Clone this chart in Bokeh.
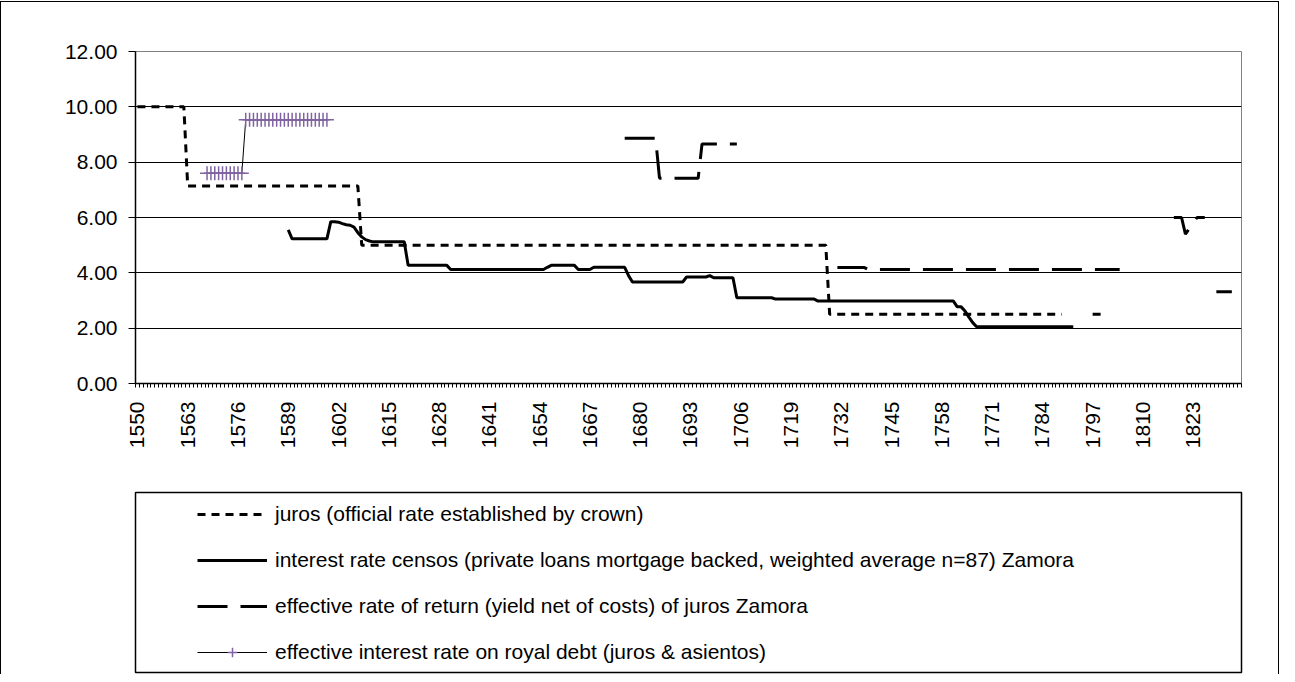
import math
from bokeh.plotting import figure
from bokeh.layouts import column
from bokeh.models import (FixedTicker, NumeralTickFormatter, Legend, LegendItem,
                          Range1d, InlineStyleSheet)
from bokeh.embed import file_html
from bokeh.resources import INLINE

NA = float("nan")

# ---------------- data ----------------
first_year = 1550
last_year = 1835
tick_years = [1550, 1563, 1576, 1589, 1602, 1615, 1628, 1641, 1654, 1667, 1680,
              1693, 1706, 1719, 1732, 1745, 1758, 1771, 1784, 1797, 1810, 1823]
y_ticks = [0, 2, 4, 6, 8, 10, 12]

# plateaus: (from year, to year, value)
juros_runs = [(1550, 1562, 10.00), (1563, 1607, 7.14), (1608, 1728, 5.00),
              (1729, 1789, 2.50), (1797, 1800, 2.50)]

censos_runs = [(1589, 1589, 5.55), (1590, 1599, 5.23), (1600, 1601, 5.85),
               (1602, 1602, 5.83), (1603, 1603, 5.78), (1604, 1604, 5.74),
               (1605, 1605, 5.72), (1606, 1606, 5.65), (1607, 1607, 5.45),
               (1608, 1608, 5.30), (1609, 1609, 5.20), (1610, 1610, 5.15),
               (1611, 1619, 5.12), (1620, 1630, 4.27), (1631, 1655, 4.12),
               (1656, 1656, 4.20), (1657, 1663, 4.27), (1664, 1667, 4.12),
               (1668, 1676, 4.20), (1677, 1677, 3.90), (1678, 1691, 3.67),
               (1692, 1697, 3.85), (1698, 1698, 3.90), (1699, 1704, 3.82),
               (1705, 1714, 3.10), (1715, 1725, 3.05), (1726, 1761, 2.98),
               (1762, 1763, 2.77), (1764, 1764, 2.62), (1765, 1765, 2.40),
               (1766, 1766, 2.20), (1767, 1792, 2.05)]

effective_runs = [(1676, 1684, 8.86), (1685, 1695, 7.42), (1696, 1705, 8.66),
                  (1731, 1738, 4.19), (1739, 1804, 4.12),
                  (1818, 1820, 6.00), (1821, 1821, 5.40), (1822, 1822, 5.60),
                  (1823, 1823, 5.80), (1824, 1826, 6.00), (1829, 1833, 3.32)]

royal_runs = [(1568, 1577, 7.60), (1578, 1599, 9.53)]

labels = ["juros (official rate established by crown)",
          "interest rate censos (private loans mortgage backed, weighted average n=87) Zamora",
          "effective rate of return (yield net of costs) of juros Zamora",
          "effective interest rate on royal debt (juros & asientos)"]

years = list(range(first_year, last_year + 1))


def expand(runs):
    vals = {y: NA for y in years}
    for a, b, v in runs:
        for y in range(a, b + 1):
            vals[y] = v
    return [vals[y] for y in years]


juros = expand(juros_runs)
censos = expand(censos_runs)
effective = expand(effective_runs)
royal = expand(royal_runs)

# ---------------- styles ----------------
W = 1277
H_PLOT, H_LEG = 488, 184
FONT = "Liberation Sans"
FS = "21px"
PURPLE = "#8064A2"
STYLES = [
    dict(line_color="black", line_width=3, line_dash="8 6"),
    dict(line_color="black", line_width=3),
    dict(line_color="black", line_width=3, line_dash="30 13"),
    dict(line_color="black", line_width=1),
]
MARK = dict(marker="cross", size=14, line_color=PURPLE, line_width=1.5)

# ---------------- chart ----------------
p = figure(width=W, height=H_PLOT, output_backend="svg", toolbar_location=None,
           x_range=Range1d(first_year - 0.5, last_year + 0.5),
           y_range=Range1d(0, 12),
           min_border_left=121, min_border_right=19,
           min_border_top=49, min_border_bottom=107)
p.background_fill_color = "white"
p.border_fill_color = "white"
p.outline_line_color = "#808080"
p.outline_line_width = 1

p.xgrid.visible = False
p.ygrid.ticker = FixedTicker(ticks=[t for t in y_ticks if 0 < t < 12])
p.ygrid.grid_line_color = "black"
p.ygrid.grid_line_width = 1

p.yaxis.ticker = FixedTicker(ticks=y_ticks)
p.yaxis.formatter = NumeralTickFormatter(format="0.00")
p.yaxis.axis_line_color = "black"
p.yaxis.axis_line_width = 1.5
p.yaxis.major_tick_out = 7
p.yaxis.major_tick_in = 0
p.yaxis.minor_tick_out = 0
p.yaxis.minor_tick_in = 0
p.yaxis.major_tick_line_color = "black"
p.yaxis.major_label_standoff = 11
p.yaxis.major_label_text_font = FONT
p.yaxis.major_label_text_font_size = FS
p.yaxis.major_label_text_color = "black"

p.xaxis.ticker = FixedTicker(ticks=tick_years,
                             minor_ticks=[y - 0.5 for y in years] + [last_year + 0.5])
p.xaxis.major_label_overrides = {t: str(t) for t in tick_years}
p.xaxis.axis_line_color = "black"
p.xaxis.axis_line_width = 1.5
p.xaxis.major_tick_out = 0
p.xaxis.major_tick_in = 0
p.xaxis.minor_tick_out = 4
p.xaxis.minor_tick_in = 0
p.xaxis.minor_tick_line_color = "black"
p.xaxis.major_label_orientation = math.pi / 2
p.xaxis.major_label_standoff = 14
p.xaxis.major_label_text_font = FONT
p.xaxis.major_label_text_font_size = FS
p.xaxis.major_label_text_color = "black"

p.line(years, juros, **STYLES[0])
p.line(years, censos, **STYLES[1])
p.line(years, effective, **STYLES[2])
p.line(years, royal, **STYLES[3])
p.scatter(years, royal, **MARK)

# ---------------- legend box (its frame is the legend border) ----------------
lg = figure(width=W, height=H_LEG, output_backend="svg", toolbar_location=None,
            x_axis_type=None, y_axis_type=None,
            x_range=Range1d(0, 1), y_range=Range1d(0, 1),
            min_border_left=134, min_border_right=37,
            min_border_top=2, min_border_bottom=2)
lg.grid.visible = False
lg.background_fill_color = "white"
lg.border_fill_color = "white"
lg.outline_line_color = "black"
lg.outline_line_width = 1.5

# legend-only renderers (no visible data, same styles as the series)
kx = [NA, NA]
k0 = lg.line(kx, kx, **STYLES[0])
k1 = lg.line(kx, kx, **STYLES[1])
k2 = lg.line(kx, kx, **STYLES[2])
k3 = lg.line(kx, kx, **STYLES[3])
k3m = lg.scatter(kx, kx, **MARK)

legend = Legend(items=[LegendItem(label=labels[0], renderers=[k0]),
                       LegendItem(label=labels[1], renderers=[k1]),
                       LegendItem(label=labels[2], renderers=[k2]),
                       LegendItem(label=labels[3], renderers=[k3, k3m])],
                location=(54, 0), orientation="vertical",
                padding=8, spacing=22, margin=0,
                glyph_width=70, glyph_height=24, label_height=24,
                label_standoff=8,
                label_text_font=FONT, label_text_font_size=FS,
                label_text_color="black",
                border_line_alpha=0, background_fill_alpha=0)
lg.add_layout(legend, "center")

page = column(p, lg, spacing=0)
page.stylesheets = [InlineStyleSheet(
    css=":host { border-top: 1px solid black; border-left: 1px solid black; "
        "border-right: 1px solid black; margin-top: 1px; }")]

open("out.html", "w").write(file_html(page, INLINE))
